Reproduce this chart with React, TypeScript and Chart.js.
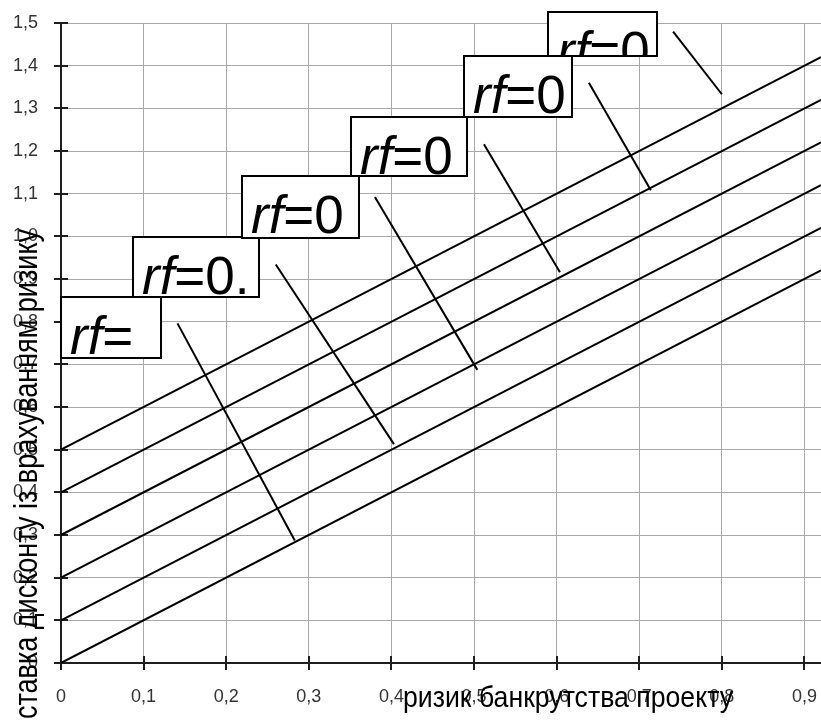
import React, { useEffect, useRef } from "react";
import { Chart, registerables } from "chart.js";

Chart.register(...registerables);

// ---- data ----
const X_TICKS = [0, 0.1, 0.2, 0.3, 0.4, 0.5, 0.6, 0.7, 0.8, 0.9];
const X_TICK_LABELS = ["0", "0,1", "0,2", "0,3", "0,4", "0,5", "0,6", "0,7", "0,8", "0,9"];
const Y_TICKS = [0, 0.1, 0.2, 0.3, 0.4, 0.5, 0.6, 0.7, 0.8, 0.9, 1.0, 1.1, 1.2, 1.3, 1.4, 1.5];
const Y_TICK_LABELS = ["0", "0,1", "0,2", "0,3", "0,4", "0,5", "0,6", "0,7", "0,8", "0,9", "1,0", "1,1", "1,2", "1,3", "1,4", "1,5"];
const X_MIN = 0;
const X_MAX = 0.92;
const Y_MIN = 0;
const Y_MAX = 1.5;

// risk-free lines: value at x = 0 and at x = 0.92
const LINE_X = [0, 0.92];
const LINE_START = [0, 0.1, 0.2, 0.3, 0.4, 0.5];
const LINE_END = [0.92, 1.02, 1.12, 1.22, 1.32, 1.42];

// leader lines (from label to line)
const LEADER_FROM_X = [0.141, 0.26, 0.38, 0.512, 0.639, 0.741];
const LEADER_FROM_Y = [0.796, 0.934, 1.092, 1.216, 1.36, 1.48];
const LEADER_TO_X = [0.283, 0.403, 0.504, 0.604, 0.714, 0.8];
const LEADER_TO_Y = [0.287, 0.513, 0.687, 0.916, 1.108, 1.333];

// label boxes: top-left corner in data units
const BOX_TEXT = ["rf=", "rf=0.", "rf=0", "rf=0", "rf=0", "rf=0"];
const BOX_X = [0.0, 0.087, 0.219, 0.351, 0.4875, 0.589];
const BOX_Y = [0.858, 0.998, 1.141, 1.28, 1.423, 1.526];

const X_TITLE = "ризик банкрутства проекту";
const Y_TITLE = "ставка дисконту із врахуванням ризику";

// ---- styles ----
const BOX_W = [100, 126, 117, 116, 108, 109];
const BOX_H = [61, 60, 62, 59, 61, 44];
const FONT = '"Liberation Sans", Arial, sans-serif';

const overlayPlugin = {
  id: "overlay",
  beforeDatasetsDraw(chart: any) {
    const { ctx, chartArea } = chart;
    const xs = chart.scales.x;
    const ys = chart.scales.y;
    const { left, right, bottom, top } = chartArea;
    ctx.save();
    ctx.strokeStyle = "#1e1e1e";
    ctx.lineWidth = 2;
    ctx.beginPath();
    ctx.moveTo(left, top);
    ctx.lineTo(left, bottom);
    ctx.moveTo(left, bottom);
    ctx.lineTo(right, bottom);
    ctx.stroke();
    ctx.beginPath();
    Y_TICKS.forEach((v) => {
      const py = Math.round(ys.getPixelForValue(v));
      ctx.moveTo(left - 7, py);
      ctx.lineTo(left + 7, py);
    });
    X_TICKS.forEach((v) => {
      const px = Math.round(xs.getPixelForValue(v));
      ctx.moveTo(px, bottom - 7);
      ctx.lineTo(px, bottom + 7);
    });
    ctx.stroke();
    ctx.restore();
  },
  afterDatasetsDraw(chart: any) {
    const { ctx } = chart;
    const xs = chart.scales.x;
    const ys = chart.scales.y;
    ctx.save();
    BOX_TEXT.forEach((t, i) => {
      const x = Math.round(xs.getPixelForValue(BOX_X[i]));
      const y = Math.round(ys.getPixelForValue(BOX_Y[i]));
      const w = BOX_W[i];
      const h = BOX_H[i];
      ctx.fillStyle = "#ffffff";
      ctx.fillRect(x, y, w, h);
      ctx.save();
      ctx.beginPath();
      ctx.rect(x, y, w, h);
      ctx.clip();
      ctx.fillStyle = "#000";
      ctx.textBaseline = "alphabetic";
      ctx.textAlign = "left";
      ctx.font = `italic 53px ${FONT}`;
      const it = t.slice(0, 2);
      ctx.fillText(it, x + 9, y + 57);
      const wi = ctx.measureText(it).width;
      ctx.font = `53px ${FONT}`;
      ctx.fillText(t.slice(2), x + 9 + wi, y + 57);
      ctx.restore();
      ctx.strokeStyle = "#000";
      ctx.lineWidth = 2;
      ctx.strokeRect(x, y, w, h);
    });
    ctx.restore();
  },
  afterDraw(chart: any) {
    const { ctx } = chart;
    ctx.save();
    ctx.fillStyle = "#000";
    // x title
    ctx.font = `29px ${FONT}`;
    ctx.textAlign = "center";
    ctx.textBaseline = "alphabetic";
    const xw = ctx.measureText(X_TITLE).width;
    ctx.save();
    ctx.translate(568, 707);
    ctx.scale(330 / xw, 1);
    ctx.fillText(X_TITLE, 0, 0);
    ctx.restore();
    // y title
    ctx.font = `34px ${FONT}`;
    const yw = ctx.measureText(Y_TITLE).width;
    ctx.save();
    ctx.translate(37, 229);
    ctx.rotate(-Math.PI / 2);
    ctx.scale(490 / yw, 1);
    ctx.textAlign = "right";
    ctx.fillText(Y_TITLE, 0, 0);
    ctx.restore();
    ctx.restore();
  },
};

const zeroPad = (s: any) => {
  s.paddingTop = 0;
  s.paddingBottom = 0;
  s.paddingLeft = 0;
  s.paddingRight = 0;
};

export default function App() {
  const ref = useRef<HTMLCanvasElement | null>(null);
  useEffect(() => {
    if (!ref.current) return;
    Chart.defaults.font.family = FONT;
    const lineSets = LINE_START.map((s, i) => ({
      label: "line" + i,
      data: [
        { x: LINE_X[0], y: s },
        { x: LINE_X[1], y: LINE_END[i] },
      ],
      showLine: true,
      borderColor: "#000",
      borderWidth: 2,
      pointRadius: 0,
      fill: false,
    }));
    const leaderSets = LEADER_FROM_X.map((fx, i) => ({
      label: "leader" + i,
      data: [
        { x: fx, y: LEADER_FROM_Y[i] },
        { x: LEADER_TO_X[i], y: LEADER_TO_Y[i] },
      ],
      showLine: true,
      borderColor: "#000",
      borderWidth: 2,
      pointRadius: 0,
      fill: false,
      clip: false,
    }));
    const chart = new Chart(ref.current, {
      type: "scatter",
      data: { datasets: [...lineSets, ...leaderSets] as any },
      options: {
        responsive: false,
        animation: false,
        devicePixelRatio: 1,
        layout: { padding: { top: 23, right: 0, left: 0, bottom: 0 } },
        plugins: { legend: { display: false }, tooltip: { enabled: false } },
        scales: {
          x: {
            type: "linear",
            min: X_MIN,
            max: X_MAX,
            afterBuildTicks: (s: any) => {
              s.ticks = X_TICKS.map((v) => ({ value: v }));
            },
            afterFit: (s: any) => {
              s.height = 58;
              zeroPad(s);
            },
            grid: { color: "#a8a8a8", lineWidth: 1, drawTicks: false },
            border: { display: false },
            ticks: {
              padding: 23,
              color: "#333333",
              font: { size: 18, family: FONT },
              autoSkip: false,
              maxRotation: 0,
              callback: (_v: any, i: number) => X_TICK_LABELS[i],
            },
          },
          y: {
            type: "linear",
            min: Y_MIN,
            max: Y_MAX,
            afterBuildTicks: (s: any) => {
              s.ticks = Y_TICKS.map((v) => ({ value: v }));
            },
            afterFit: (s: any) => {
              s.width = 61;
              zeroPad(s);
            },
            grid: { color: "#a8a8a8", lineWidth: 1, drawTicks: false },
            border: { display: false },
            ticks: {
              padding: 23,
              color: "#333333",
              font: { size: 18, family: FONT },
              autoSkip: false,
              callback: (_v: any, i: number) => Y_TICK_LABELS[i],
            },
          },
        },
      },
      plugins: [overlayPlugin],
    });
    return () => chart.destroy();
  }, []);
  return (
    <div style={{ position: "absolute", left: 0, top: 0, width: 821, height: 721, background: "#fff" }}>
      <canvas ref={ref} width={821} height={721} style={{ display: "block" }} />
    </div>
  );
}
